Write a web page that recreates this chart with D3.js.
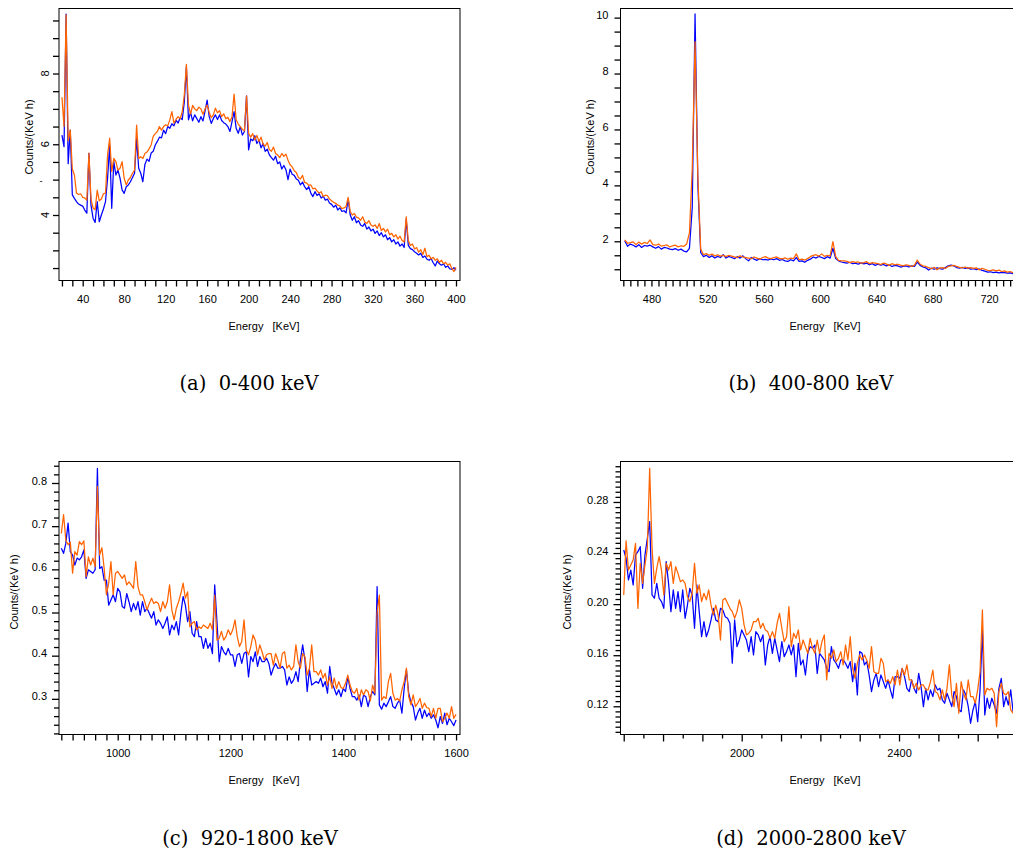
<!DOCTYPE html>
<html><head><meta charset="utf-8">
<script src="https://cdn.jsdelivr.net/npm/d3@7"></script>
<style>
body{margin:0;background:#fff;}
svg{display:block;background:#fff;font-family:"Liberation Sans",Arial,sans-serif;}
</style></head><body>
<svg id="chart" width="1013" height="850"></svg>
<script>
// ---------------- DATA ----------------
// (a) 0-400 keV, channels 20..400 step 2
const aEnergy = d3.range(20, 401, 2);
const aBlue = [
6.26,5.93,9.68,5.45,6.40,4.57,4.47,4.38,4.31,4.28,
4.25,4.14,4.05,5.74,4.28,3.91,3.79,4.38,3.81,4.00,
4.17,4.38,5.04,5.98,4.19,5.51,5.13,5.27,5.04,4.71,
4.61,4.80,4.85,4.94,5.06,5.18,6.17,5.32,5.18,4.94,
5.43,5.58,5.52,5.75,5.80,5.98,6.08,6.20,6.18,6.40,
6.30,6.50,6.45,6.58,6.52,6.68,6.60,6.75,6.70,7.20,
8.19,6.69,6.90,6.66,6.83,6.73,6.62,6.78,6.66,6.94,
7.25,6.78,6.59,6.73,6.83,6.70,6.83,6.67,6.61,6.57,
6.50,6.36,6.64,6.92,6.45,6.31,6.50,6.26,6.36,7.37,
5.84,6.15,6.10,6.24,6.02,6.12,5.90,6.02,5.80,5.86,
5.70,5.62,5.55,5.66,5.45,5.50,5.30,5.40,5.28,5.00,
5.30,5.15,5.12,5.02,4.98,4.85,4.93,4.80,4.72,4.80,
4.62,4.52,4.66,4.55,4.60,4.48,4.53,4.42,4.45,4.34,
4.30,4.22,4.28,4.14,4.20,4.10,4.12,4.06,4.45,4.00,
3.85,3.95,3.78,3.84,3.72,3.68,3.76,3.60,3.66,3.55,
3.60,3.48,3.55,3.42,3.50,3.38,3.44,3.30,3.36,3.24,
3.30,3.18,3.24,3.12,3.18,3.08,3.88,3.14,3.05,3.02,
2.96,2.92,2.87,2.92,2.80,2.84,2.75,2.72,2.77,2.65,
2.56,2.70,2.62,2.58,2.62,2.52,2.56,2.48,2.46,2.51,
2.44];
const aOrange = [
7.33,6.50,9.66,6.10,6.40,5.30,5.13,4.62,4.58,4.60,
4.50,4.48,4.42,5.75,4.45,4.20,4.15,4.70,4.40,4.45,
4.60,4.62,5.70,6.17,5.23,5.60,5.51,5.27,5.32,5.51,
5.04,4.85,4.99,5.06,5.18,5.27,6.54,5.60,5.65,5.60,
5.74,5.78,5.87,5.98,6.22,6.30,6.36,6.50,6.40,6.50,
6.55,6.52,6.69,6.92,6.60,6.70,6.78,6.72,6.92,7.40,
8.26,7.11,6.85,7.10,7.00,6.95,7.05,7.00,6.85,7.00,
7.11,6.90,6.75,6.83,7.02,6.89,6.95,6.78,6.86,6.72,
6.76,6.64,6.78,7.42,6.69,6.57,6.50,6.42,6.38,7.37,
6.31,6.20,6.30,6.12,6.25,6.08,6.20,6.00,5.95,6.05,
5.85,5.80,5.92,5.74,5.70,5.62,5.74,5.66,5.72,5.55,
5.42,5.36,5.25,5.20,5.06,5.02,5.12,4.92,4.90,4.84,
4.85,4.74,4.76,4.68,4.62,4.66,4.52,4.56,4.55,4.45,
4.40,4.36,4.33,4.28,4.26,4.18,4.20,4.24,4.50,4.10,
4.00,4.04,3.94,3.92,3.85,3.95,3.80,3.76,3.84,3.72,
3.68,3.72,3.62,3.76,3.56,3.62,3.52,3.60,3.44,3.48,
3.38,3.44,3.32,3.40,3.28,3.24,3.95,3.28,3.14,3.18,
3.04,3.08,2.95,3.02,2.88,3.06,2.82,2.86,2.76,2.80,
2.72,2.76,2.66,2.72,2.62,2.66,2.58,2.62,2.49,2.40,
2.52];

// (b) 400-800 keV, channels 461..739 step 2
const bEnergy = d3.range(461, 740, 2);
const bBlue = [
2.02,1.82,1.90,1.86,1.80,1.88,1.78,1.85,1.83,1.86,
1.80,1.75,1.81,1.72,1.78,1.76,1.72,1.70,1.74,1.68,
1.72,1.65,1.62,1.75,3.20,10.13,4.00,1.60,1.45,1.50,
1.42,1.48,1.40,1.46,1.42,1.52,1.40,1.46,1.42,1.38,
1.45,1.40,1.48,1.38,1.30,1.42,1.36,1.32,1.38,1.34,
1.35,1.33,1.37,1.34,1.38,1.32,1.35,1.30,1.28,1.34,
1.30,1.42,1.28,1.30,1.25,1.32,1.36,1.44,1.40,1.46,
1.42,1.38,1.45,1.40,1.75,1.38,1.30,1.26,1.24,1.22,
1.25,1.20,1.22,1.18,1.23,1.19,1.22,1.16,1.20,1.14,
1.18,1.15,1.17,1.12,1.16,1.10,1.14,1.12,1.08,1.10,
1.12,1.08,1.12,1.10,1.26,1.14,1.08,1.05,0.97,1.04,
1.00,1.05,1.02,1.00,1.06,1.12,1.15,1.12,1.06,1.04,
1.07,1.03,1.05,1.00,1.02,0.99,1.01,0.96,0.93,0.90,
0.91,0.88,0.90,0.87,0.89,0.88,0.86,0.87,0.84,0.86];
const bOrange = [
2.05,1.93,1.95,1.98,1.88,1.97,1.90,1.96,1.92,2.05,
1.88,1.86,1.90,1.83,1.85,1.87,1.80,1.84,1.86,1.80,
1.84,1.82,1.90,2.30,4.60,9.14,4.30,1.72,1.52,1.56,
1.50,1.54,1.48,1.52,1.47,1.50,1.45,1.50,1.47,1.44,
1.42,1.48,1.44,1.42,1.40,1.38,1.44,1.40,1.36,1.42,
1.45,1.40,1.38,1.42,1.44,1.39,1.37,1.41,1.36,1.40,
1.38,1.55,1.34,1.36,1.33,1.38,1.45,1.50,1.52,1.47,
1.55,1.46,1.50,1.48,1.99,1.45,1.32,1.30,1.30,1.28,
1.24,1.27,1.25,1.26,1.22,1.24,1.27,1.20,1.24,1.22,
1.20,1.17,1.22,1.19,1.14,1.20,1.16,1.18,1.15,1.12,
1.16,1.14,1.10,1.15,1.33,1.18,1.12,1.10,1.06,1.02,
1.07,0.98,1.05,1.06,1.03,1.10,1.12,1.14,1.10,1.07,
1.05,1.08,1.04,1.06,1.03,1.05,0.98,1.03,1.00,0.96,
0.95,0.98,0.94,0.97,0.92,0.94,0.90,0.92,0.88,0.90];

// (c) 920-1800 keV, channels 900..1600 step 4
const cEnergy = d3.range(900, 1601, 4);
const cBlue = [
0.649,0.637,0.660,0.707,0.641,0.633,0.610,0.626,0.622,0.629,
0.645,0.579,0.599,0.595,0.591,0.599,0.834,0.602,0.606,0.575,
0.575,0.517,0.529,0.541,0.525,0.556,0.548,0.514,0.510,0.544,
0.525,0.502,0.521,0.506,0.525,0.494,0.525,0.502,0.510,0.498,
0.487,0.502,0.471,0.483,0.475,0.463,0.475,0.490,0.448,0.471,
0.460,0.479,0.448,0.498,0.537,0.517,0.479,0.502,0.452,0.444,
0.479,0.444,0.444,0.417,0.440,0.417,0.429,0.405,0.564,0.479,
0.386,0.421,0.409,0.402,0.417,0.402,0.402,0.375,0.402,0.405,
0.382,0.405,0.409,0.351,0.398,0.386,0.409,0.375,0.398,0.386,
0.386,0.394,0.382,0.355,0.371,0.382,0.371,0.371,0.375,0.367,
0.332,0.351,0.336,0.344,0.363,0.340,0.390,0.425,0.390,0.317,
0.367,0.332,0.336,0.340,0.336,0.348,0.328,0.340,0.313,0.375,
0.336,0.324,0.309,0.321,0.305,0.324,0.317,0.351,0.324,0.305,
0.305,0.297,0.309,0.282,0.309,0.305,0.282,0.305,0.317,0.309,
0.560,0.286,0.276,0.290,0.282,0.293,0.305,0.282,0.278,0.290,
0.297,0.267,0.324,0.367,0.313,0.293,0.282,0.251,0.267,0.278,
0.255,0.274,0.259,0.267,0.255,0.263,0.251,0.233,0.259,0.243,
0.267,0.240,0.255,0.247,0.238,0.251];
const cOrange = [
0.683,0.727,0.668,0.657,0.663,0.591,0.641,0.633,0.664,0.657,
0.666,0.583,0.629,0.610,0.626,0.606,0.792,0.633,0.650,0.602,
0.541,0.568,0.618,0.541,0.591,0.595,0.587,0.579,0.587,0.564,
0.571,0.564,0.556,0.618,0.560,0.541,0.541,0.525,0.506,0.521,
0.533,0.521,0.525,0.521,0.502,0.525,0.510,0.525,0.564,0.506,
0.483,0.510,0.525,0.544,0.568,0.533,0.548,0.467,0.475,0.479,
0.460,0.467,0.463,0.471,0.467,0.463,0.475,0.460,0.540,0.436,
0.440,0.456,0.436,0.444,0.460,0.448,0.460,0.483,0.444,0.421,
0.433,0.483,0.413,0.402,0.421,0.448,0.436,0.402,0.425,0.409,
0.390,0.402,0.405,0.405,0.378,0.405,0.390,0.371,0.405,0.409,
0.371,0.378,0.367,0.375,0.425,0.386,0.371,0.405,0.398,0.355,
0.371,0.425,0.363,0.363,0.355,0.367,0.348,0.359,0.332,0.351,
0.324,0.348,0.324,0.340,0.326,0.324,0.336,0.355,0.332,0.317,
0.313,0.324,0.297,0.321,0.309,0.321,0.317,0.295,0.332,0.313,
0.500,0.540,0.297,0.305,0.301,0.340,0.359,0.313,0.297,0.301,
0.295,0.321,0.340,0.371,0.305,0.286,0.309,0.282,0.290,0.301,
0.278,0.290,0.280,0.278,0.259,0.278,0.255,0.278,0.278,0.247,
0.255,0.267,0.255,0.282,0.255,0.264];

// (d) 2000-2800 keV, channels 1700..2690 step 6
const dEnergy = d3.range(1700, 2691, 6);
const dBlue = [
0.2424,0.2359,0.2189,0.2267,0.2150,0.2385,0.2411,0.2450,0.2124,0.2385,
0.2515,0.2646,0.2072,0.2046,0.2163,0.2046,0.2020,0.1967,0.2333,0.2163,
0.1941,0.2111,0.1967,0.2098,0.1941,0.2111,0.1889,0.1993,0.2124,0.2072,
0.1811,0.2150,0.1941,0.1745,0.1863,0.1745,0.1798,0.1876,0.1967,0.1876,
0.1863,0.1967,0.1954,0.1902,0.1889,0.1850,0.1537,0.1876,0.1667,0.1719,
0.1798,0.1759,0.1719,0.1628,0.1745,0.1602,0.1785,0.1759,0.1706,0.1759,
0.1524,0.1680,0.1745,0.1615,0.1732,0.1641,0.1550,0.1706,0.1589,0.1628,
0.1680,0.1602,0.1680,0.1432,0.1693,0.1524,0.1563,0.1445,0.1615,0.1667,
0.1654,0.1680,0.1458,0.1615,0.1589,0.1563,0.1497,0.1471,0.1667,0.1563,
0.1537,0.1497,0.1563,0.1563,0.1537,0.1497,0.1550,0.1393,0.1537,0.1289,
0.1628,0.1615,0.1524,0.1550,0.1445,0.1315,0.1406,0.1458,0.1354,0.1445,
0.1393,0.1341,0.1406,0.1328,0.1263,0.1432,0.1432,0.1419,0.1497,0.1432,
0.1341,0.1315,0.1406,0.1341,0.1302,0.1458,0.1354,0.1197,0.1341,0.1250,
0.1328,0.1276,0.1367,0.1328,0.1341,0.1250,0.1224,0.1302,0.1250,0.1197,
0.1315,0.1276,0.1171,0.1158,0.1328,0.1289,0.1197,0.1067,0.1171,0.1237,
0.1080,0.1328,0.1798,0.1132,0.1263,0.1184,0.1263,0.1210,0.1145,0.1341,
0.1419,0.1197,0.1276,0.1210,0.1328,0.1158];
const dOrange = [
0.2072,0.2495,0.2267,0.2307,0.2346,0.2476,0.1967,0.2320,0.2163,0.2307,
0.2437,0.3064,0.2437,0.2163,0.2280,0.2372,0.2267,0.2072,0.2320,0.2267,
0.2333,0.2163,0.2294,0.2241,0.2176,0.2189,0.2163,0.2059,0.2020,0.2085,
0.2320,0.2085,0.2150,0.2020,0.2085,0.2033,0.2111,0.1993,0.1915,0.1993,
0.1915,0.1719,0.2033,0.2046,0.2007,0.1967,0.1941,0.1889,0.1941,0.2033,
0.1967,0.1837,0.1759,0.1772,0.1798,0.1863,0.1863,0.1889,0.1811,0.1850,
0.1798,0.1785,0.1732,0.1785,0.1732,0.1850,0.1928,0.1811,0.1706,0.1745,
0.1980,0.1667,0.1772,0.1732,0.1798,0.1641,0.1719,0.1667,0.1615,0.1732,
0.1654,0.1615,0.1719,0.1615,0.1706,0.1759,0.1406,0.1615,0.1576,0.1641,
0.1550,0.1576,0.1628,0.1524,0.1680,0.1563,0.1745,0.1497,0.1419,0.1537,
0.1602,0.1563,0.1602,0.1563,0.1497,0.1667,0.1471,0.1458,0.1458,0.1576,
0.1537,0.1393,0.1406,0.1380,0.1432,0.1367,0.1484,0.1367,0.1497,0.1445,
0.1524,0.1406,0.1406,0.1341,0.1380,0.1328,0.1367,0.1367,0.1328,0.1328,
0.1393,0.1484,0.1315,0.1302,0.1250,0.1328,0.1250,0.1341,0.1524,0.1289,
0.1197,0.1380,0.1145,0.1393,0.1302,0.1250,0.1406,0.1276,0.1276,0.1224,
0.1328,0.1471,0.1955,0.1289,0.1341,0.1328,0.1341,0.1302,0.1041,0.1315,
0.1380,0.1302,0.1289,0.1315,0.1171,0.1145];

// tick values and labels
const aXTicks = d3.range(20, 401, 10);
const aXLabels = [40, 80, 120, 160, 200, 240, 280, 320, 360, 400];
const aYTicks = d3.range(2.5, 9.51, 0.5);
const aYLabels = [4, 6, 8];
const bXTicks = d3.range(460, 741, 5);
const bXLabels = [480, 520, 560, 600, 640, 680, 720];
const bYTicks = d3.range(1, 10.01, 0.5);
const bYLabels = [2, 4, 6, 8, 10];
const cXTicks = d3.range(900, 1601, 20);
const cXLabels = [1000, 1200, 1400, 1600];
const cYTicks = d3.range(22, 85, 2).map(v => v / 100);
const cYLabels = [0.3, 0.4, 0.5, 0.6, 0.7, 0.8];
const dXTicks = d3.range(1700, 2701, 50);
const dXLabels = [2000, 2400];
const dYTicks = d3.range(100, 309, 4).map(v => v / 1000);
const dYLabels = [0.12, 0.16, 0.20, 0.24, 0.28];
const captions = ["(a)  0-400 keV", "(b)  400-800 keV", "(c)  920-1800 keV", "(d)  2000-2800 keV"];
const seriesColors = ["#0000ff", "#ff6400"];

// ---------------- DRAW ----------------
const svg = d3.select("#chart");
svg.append("rect").attr("width", 1013).attr("height", 850).attr("fill", "#fff");
const SANS = '"Liberation Sans",Arial,sans-serif';
const SERIF = '"DejaVu Serif","Liberation Serif",serif';

const panels = [
  {key:"a", L:59, R:460, T:8.5, B:280.5, xd:[17.15,403.86], yd:[2.148,9.838],
   E:aEnergy, S:[aBlue,aOrange], xt:aXTicks, xl:aXLabels, yt:aYTicks, yl:aYLabels,
   yfmt:d3.format("d"), xfmt:d3.format("d"), rot:true, xtx:264, ylx:29, yly:137, cap:captions[0], capx:249, capy:390, xmaj:null, ymaj:null},
  {key:"b", L:620.5, R:1020, T:8.5, B:280.5, xd:[458.0,742.0], yd:[0.598,10.326],
   E:bEnergy, S:[bBlue,bOrange], xt:bXTicks, xl:bXLabels, yt:bYTicks, yl:bYLabels,
   yfmt:d3.format("d"), xfmt:d3.format("d"), rot:false, xtx:825, ylx:590, yly:137, cap:captions[1], capx:811, capy:390, xmaj:null, ymaj:null},
  {key:"c", L:59, R:460, T:461.5, B:734.5, xd:[895.9,1607.0], yd:[0.2174,0.8498],
   E:cEnergy, S:[cBlue,cOrange], xt:cXTicks, xl:cXLabels, yt:cYTicks, yl:cYLabels,
   yfmt:d3.format(".1f"), xfmt:d3.format("d"), rot:false, xtx:264, ylx:14, yly:592, cap:captions[2], capx:250, capy:845, xmaj:null, ymaj:0.1},
  {key:"d", L:620.5, R:1020, T:461.5, B:734.5, xd:[1691.8,2707.6], yd:[0.0979,0.3117],
   E:dEnergy, S:[dBlue,dOrange], xt:dXTicks, xl:dXLabels, yt:dYTicks, yl:dYLabels,
   yfmt:d3.format(".2f"), xfmt:d3.format("d"), rot:false, xtx:825, ylx:567, yly:592, cap:captions[3], capx:811, capy:845, xmaj:100, ymaj:0.04}
];

function isMult(v, m) { const r = v / m; return Math.abs(r - Math.round(r)) < 1e-6; }

panels.forEach(p => {
  const x = d3.scaleLinear().domain(p.xd).range([p.L, p.R]);
  const y = d3.scaleLinear().domain(p.yd).range([p.B, p.T]);
  const g = svg.append("g");

  const clip = "clip-" + p.key;
  svg.append("clipPath").attr("id", clip).append("rect")
    .attr("x", p.L).attr("y", p.T).attr("width", p.R - p.L).attr("height", p.B - p.T);

  // series
  const line = d3.line().x((d, i) => x(p.E[i])).y(d => y(d));
  p.S.forEach((s, k) => {
    g.append("path").datum(s).attr("clip-path", `url(#${clip})`)
      .attr("fill", "none").attr("stroke", seriesColors[k])
      .attr("stroke-width", 1.25).attr("stroke-linejoin", "round").attr("d", line);
  });

  // frame
  g.append("rect").attr("x", p.L).attr("y", p.T).attr("width", p.R - p.L).attr("height", p.B - p.T)
    .attr("fill", "none").attr("stroke", "#000").attr("stroke-width", 1);

  // x axis
  const xTickLen = v => p.xmaj ? (isMult(v, p.xmaj) ? 7 : 4) : 6;
  const xa = g.append("g").attr("transform", `translate(0,${p.B})`)
    .call(d3.axisBottom(x).tickValues(p.xt).tickSize(6).tickFormat(""));
  xa.select(".domain").remove();
  xa.selectAll(".tick line").attr("y2", d => xTickLen(d)).attr("stroke", "#000").attr("stroke-width", 1.3);
  const xlab = g.append("g").attr("transform", `translate(0,${p.B})`)
    .call(d3.axisBottom(x).tickValues(p.xl).tickSize(0).tickPadding(15).tickFormat(p.xfmt));
  xlab.select(".domain").remove();
  xlab.selectAll("text").style("font-size", "11px").style("font-family", SANS).attr("fill", "#000");

  // y axis
  const yTickLen = v => p.ymaj ? (isMult(v, p.ymaj) ? 7 : 5) : 6;
  const ya = g.append("g").attr("transform", `translate(${p.L},0)`)
    .call(d3.axisLeft(y).tickValues(p.yt).tickSize(6).tickFormat(""));
  ya.select(".domain").remove();
  ya.selectAll(".tick line").attr("x2", d => -yTickLen(d)).attr("stroke", "#000").attr("stroke-width", 1.3);

  if (p.rot) {
    p.yl.forEach(v => {
      g.append("text").attr("transform", `translate(${p.L - 14},${y(v)}) rotate(-90)`)
        .attr("text-anchor", "middle").attr("dy", "0.35em").style("font-size", "11px").style("font-family", SANS).text(p.yfmt(v));
    });
    g.append("text").attr("x", p.L - 18).attr("y", y(5) + 4).style("font-size", "9px").attr("text-anchor", "middle").text("-");
  } else {
    const ylab = g.append("g").attr("transform", `translate(${p.L},0)`)
      .call(d3.axisLeft(y).tickValues(p.yl).tickSize(0).tickPadding(12).tickFormat(p.yfmt));
    ylab.select(".domain").remove();
    ylab.selectAll("text").style("font-size", "11px").style("font-family", SANS)
      .attr("fill", "#000").attr("y", -2.5);
  }

  // axis titles
  g.append("text").attr("x", p.xtx).attr("y", p.B + 49)
    .attr("text-anchor", "middle").style("font-size", "11px").style("font-family", SANS)
    .style("white-space", "pre").text("Energy   [KeV]");
  g.append("text").attr("transform", `translate(${p.ylx},${p.yly}) rotate(-90)`)
    .attr("text-anchor", "middle").attr("dy", "0.35em").style("font-size", "11px").style("font-family", SANS)
    .text("Counts/(KeV h)");

  // caption
  svg.append("text").attr("x", p.capx).attr("y", p.capy).attr("text-anchor", "middle")
    .style("font-family", SERIF).style("font-size", "19.5px")
    .style("white-space", "pre").text(p.cap);
});
</script>
</body></html>
